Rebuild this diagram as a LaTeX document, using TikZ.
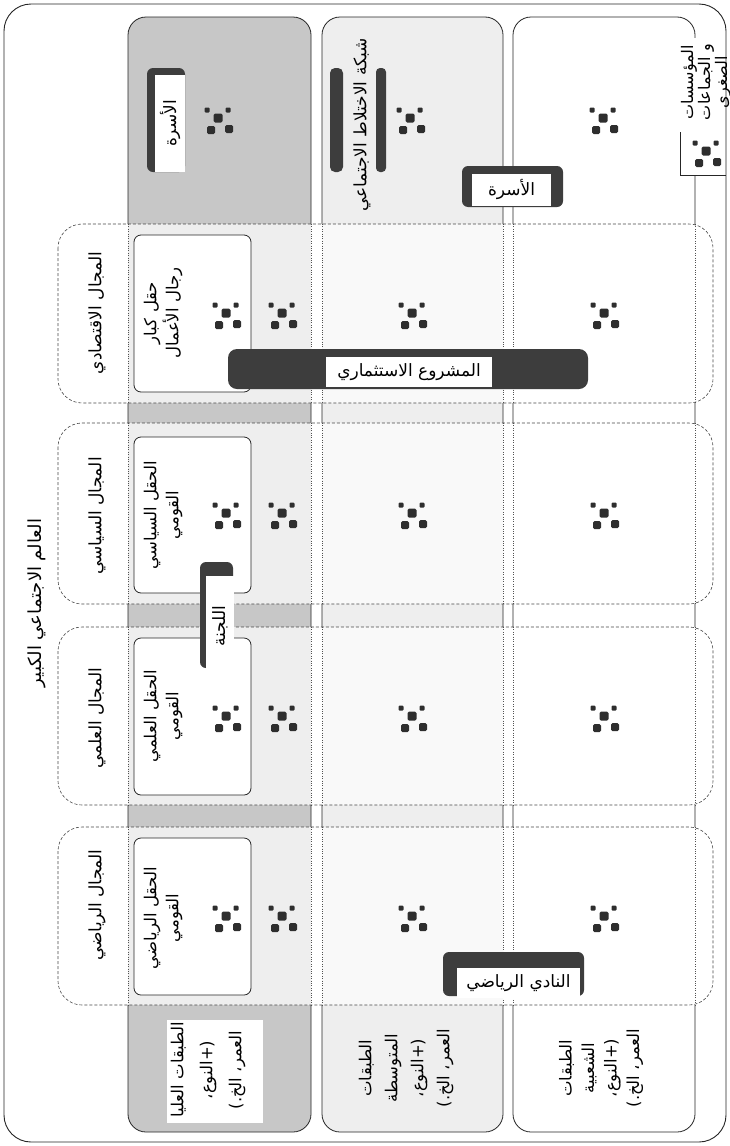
\documentclass[tikz,border=0pt]{standalone}
\usepackage{fontspec}
\TeXXeTstate=1
\newfontfamily\arabicfont[Script=Arabic]{DejaVu Sans}
\newcommand{\AR}[1]{{\arabicfont\beginR #1\endR}}
\definecolor{colA}{gray}{0.78}
\definecolor{colB}{gray}{0.935}
\definecolor{darkbar}{gray}{0.24}
\definecolor{dotc}{gray}{0.18}
\definecolor{linec}{gray}{0.15}
\tikzset{
  frame/.style={draw=linec, line width=0.9pt, rounded corners=27pt},
  colline/.style={draw=linec, line width=0.8pt, rounded corners=18pt},
  dotline/.style={draw=linec!80, line width=0.5pt, dash pattern=on 0.8pt off 1.6pt},
  domline/.style={draw=linec!85, line width=0.6pt, dash pattern=on 3pt off 2pt, rounded corners=24pt},
  fieldbox/.style={draw=linec, fill=white, line width=0.8pt, rounded corners=7pt},
  lbl/.style={font=\fontsize{17}{21}\selectfont, inner sep=0pt, align=center, text=black},
  vlbl/.style={lbl, rotate=90},
  shadowbox/.style={fill=darkbar, rounded corners=6pt},
  whitelbl/.style={fill=white, inner sep=0pt, draw=none},
  dotcl/.pic={
    \fill[dotc, rounded corners=1.5pt] (-4.5,-4.5) rectangle (4.5,4.5);
    \fill[dotc, rounded corners=1pt] (-13.5,-10.5) rectangle (-8.5,-5.5);
    \fill[dotc, rounded corners=1pt] (7.5,-10.5) rectangle (12.5,-5.5);
    \fill[dotc, rounded corners=1.5pt] (-11,8) rectangle (-3,16);
    \fill[dotc, rounded corners=1.5pt] (7,7) rectangle (15,15);
  }
}
\begin{document}
\begin{tikzpicture}[x=1pt,y=-1pt]
\useasboundingbox (0,0) rectangle (729,1146);
\fill[white] (0,0) rectangle (729,1146);

% outer frame
\draw[frame] (4,4) rectangle (726,1142);

% columns (fills)
\fill[colA, rounded corners=18pt] (128,17) rectangle (311,1132);
\fill[colB, rounded corners=18pt] (322,17) rectangle (503,1132);
\fill[white, rounded corners=18pt] (513,17) rectangle (695,1132);

% domain boxes (fills)
\foreach \ya/\yb in {224/403,423/604,627/805,827/1005}{
  \fill[white, fill opacity=0.7, rounded corners=24pt] (58,\ya) rectangle (713,\yb);
}

% column outlines, solid outside the domains
\begin{scope}
  \clip (0,0) rectangle (729,224) (0,403) rectangle (729,423) (0,604) rectangle (729,627)
        (0,805) rectangle (729,827) (0,1005) rectangle (729,1146);
  \draw[colline] (128,17) rectangle (311,1132);
  \draw[colline] (322,17) rectangle (503,1132);
  \draw[colline] (513,17) rectangle (695,1132);
\end{scope}
% column edges, dotted inside the domains
\foreach \ya/\yb in {224/403,423/604,627/805,827/1005}{
  \foreach \xx in {128,311,322,503,513,695}{
    \draw[dotline] (\xx,\ya) -- (\xx,\yb);
  }
}
% domain outlines
\foreach \ya/\yb in {224/403,423/604,627/805,827/1005}{
  \draw[domline] (58,\ya) rectangle (713,\yb);
}

% field boxes
\draw[fieldbox] (134,235) rectangle (251,392);
\draw[fieldbox] (134,437) rectangle (251,593);
\draw[fieldbox] (134,638) rectangle (251,795);
\draw[fieldbox] (134,838) rectangle (251,995);

% dot clusters
\foreach \yy in {313,513,716,916}{
  \pic at (226,\yy) {dotcl};
  \pic at (282,\yy) {dotcl};
  \pic at (412,\yy) {dotcl};
  \pic at (604,\yy) {dotcl};
}
\pic at (218,118) {dotcl};
\pic at (410,118) {dotcl};
\pic at (603,118) {dotcl};

% legend
\fill[white] (682,38) rectangle (724,175);
\draw[linec, line width=0.8pt] (680,132) -- (680,175) -- (726,175);
\pic at (706,151) {dotcl};
\node[vlbl, font=\fontsize{16}{14}\selectfont] (legT) at (706,82)
  {\AR{المؤسسات}\\\AR{و الجماعات}\\\AR{الصغرى}};

% title and domain labels
\node[vlbl, font=\fontsize{18}{21}\selectfont] (title) at (37,603) {\AR{العالم الاجتماعي الكبير}};
\node[vlbl] (domEco) at (97,313) {\AR{المجال الاقتصادي}};
\node[vlbl] (domPol) at (97,516) {\AR{المجال السياسي}};
\node[vlbl] (domSci) at (97,718) {\AR{المجال العلمي}};
\node[vlbl] (domSpo) at (97,905) {\AR{المجال الرياضي}};

% field texts
\node[vlbl, font=\fontsize{16.5}{22}\selectfont] (fEco) at (163,313) {\AR{حقل كبار}\\\AR{رجال الأعمال}};
\node[vlbl, font=\fontsize{16.5}{22}\selectfont] (fPol) at (163,515) {\AR{الحقل السياسي}\\\AR{القومي}};
\node[vlbl, font=\fontsize{16.5}{22}\selectfont] (fSci) at (163,716) {\AR{الحقل العلمي}\\\AR{القومي}};
\node[vlbl, font=\fontsize{16.5}{22}\selectfont] (fSpo) at (163,918) {\AR{الحقل الرياضي}\\\AR{القومي}};

% class texts
\fill[white] (167,1020) rectangle (263,1123);
\node[vlbl, font=\fontsize{16.5}{29}\selectfont] (clsA) at (208,1070)
  {\AR{الطبقات العليا}\\\AR{(+النوع،}\\\AR{العمر، الخ.)}};
\node[vlbl, font=\fontsize{16.5}{26}\selectfont] (clsB) at (406,1068)
  {\AR{الطبقات}\\\AR{المتوسطة}\\\AR{(+النوع،}\\\AR{العمر، الخ.)}};
\node[vlbl, font=\fontsize{16.5}{22.5}\selectfont] (clsC) at (601,1068)
  {\AR{الطبقات}\\\AR{الشعبية}\\\AR{(+النوع،}\\\AR{العمر، الخ.)}};

% family label (upper classes)
\fill[shadowbox] (147,68) rectangle (185,172);
\node[vlbl, whitelbl, minimum width=97pt, minimum height=30pt] (famA) at (170,123.5) {\AR{الأسرة}};

% social mixing network
\fill[shadowbox, rounded corners=5pt] (330,68) rectangle (343,172);
\fill[shadowbox, rounded corners=4pt] (376,68) rectangle (386,172);
\node[vlbl] (net) at (362,125) {\AR{شبكة الاختلاط الاجتماعي}};

% family label (middle / popular)
\fill[shadowbox] (462,166) rectangle (563,207);
\node[lbl, whitelbl, minimum width=79pt, minimum height=32pt] (famB) at (511.5,189.5) {\AR{الأسرة}};

% committee
\fill[shadowbox] (200,562) rectangle (233,668);
\node[vlbl, whitelbl, minimum width=100pt, minimum height=28pt] (comm) at (220,626) {\AR{اللجنة}};

% investment project
\fill[shadowbox, rounded corners=9pt] (228,349) rectangle (588,389);
\node[lbl, whitelbl, minimum width=166pt, minimum height=30pt] (proj) at (409,372) {\AR{المشروع الاستثماري}};

% sports club
\fill[shadowbox] (443,952) rectangle (584,996);
\node[lbl, whitelbl, minimum width=123pt, minimum height=30pt] (club) at (518.5,983) {\AR{النادي الرياضي}};

\end{tikzpicture}
\end{document}
